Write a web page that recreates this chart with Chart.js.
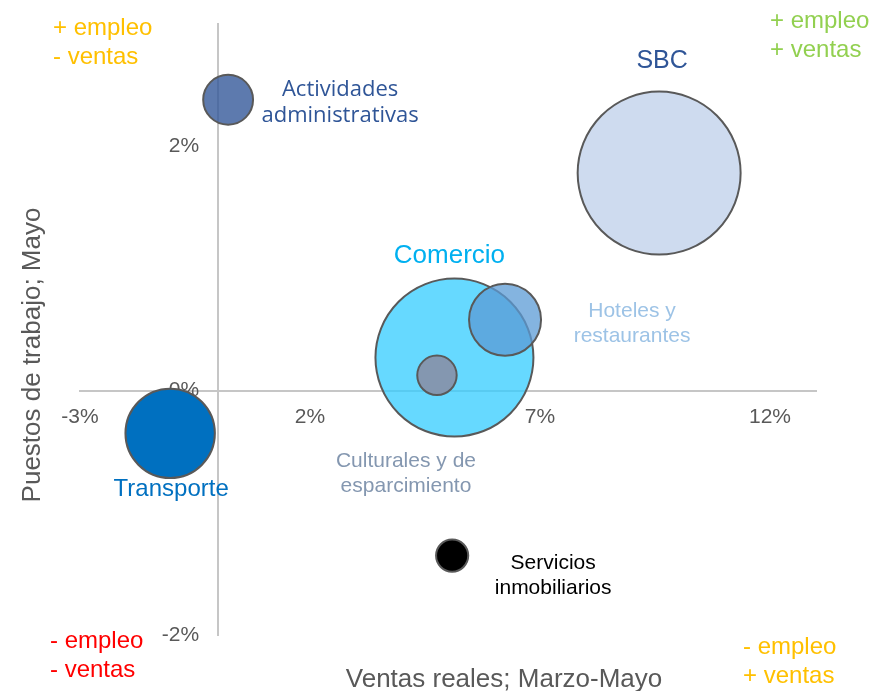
<!DOCTYPE html>
<html lang="es">
<head>
<meta charset="utf-8">
<title>Empleo y ventas por sector</title>
<script src="https://cdn.jsdelivr.net/npm/chart.js@4.4.1/dist/chart.umd.min.js"></script>
<style>
  html, body { margin: 0; padding: 0; background: #fff; }
  #grafico { display: block; }
</style>
</head>
<body>
<canvas id="grafico" width="873" height="691"></canvas>
<script>
'use strict';

// ── Datos ──
var sectores = [
  ['SBC'],
  ['Comercio'],
  ['Hoteles y', 'restaurantes'],
  ['Culturales y de', 'esparcimiento'],
  ['Actividades', 'administrativas'],
  ['Transporte'],
  ['Servicios', 'inmobiliarios']
];
var ventas = [9.59, 5.14, 6.24, 4.76, 0.22, -1.04, 5.09];     // Ventas reales; Marzo-Mayo (%)
var empleo = [1.78, 0.27, 0.58, 0.125, 2.38, -0.35, -1.35];   // Puestos de trabajo; Mayo (%)
var peso = [84, 79, 16.9, 5.3, 8.3, 25.8, 3.6];               // tamaño relativo de la burbuja
var ticksX = [-3, 2, 7, 12];
var ticksY = [-2, 0, 2];

// ── Estilos ──
var FUENTE = '"Liberation Sans", Arial, sans-serif';
var relleno = ['rgba(180,199,231,0.65)', 'rgba(51,204,255,0.75)', 'rgba(91,155,213,0.75)', 'rgba(132,151,176,1)',
               'rgba(47,85,151,0.78)', 'rgba(0,112,192,1)', 'rgba(0,0,0,1)'];
var colorEtiqueta = ['#2f5597', '#00b0f0', '#9dc3e6', '#8497b0', '#2f5597', '#0070c0', '#000000'];
var estiloEtiqueta = [
  { dx: 3,   dy: -105, lh: 0,  size: 25 },
  { dx: -5,  dy: -95,  lh: 0,  size: 26 },
  { dx: 127, dy: -3,   lh: 25, size: 21 },
  { dx: -31, dy: 92,   lh: 25, size: 21 },
  { dx: 112, dy: -4,   lh: 26, size: 22, family: '"Open Sans", sans-serif' },
  { dx: 1,   dy: 63,   lh: 0,  size: 24 },
  { dx: 101, dy: 13,   lh: 25, size: 21 }
];
var cuadrantes = [
  { x: 53,  y: 35,  lineas: ['+ empleo', '- ventas'], color: '#ffc000' },
  { x: 770, y: 28,  lineas: ['+ empleo', '+ ventas'], color: '#92d050' },
  { x: 50,  y: 648, lineas: ['- empleo', '- ventas'], color: '#ff0000' },
  { x: 743, y: 654, lineas: ['- empleo', '+ ventas'], color: '#ffc000' }
];

function radio(w) { return 9 * Math.sqrt(w) - 1; }

var puntos = ventas.map(function (v, i) { return { x: v, y: empleo[i], r: radio(peso[i]) }; });

// ── Textos: etiquetas de burbujas, cuadrantes y títulos de ejes ──
var textosPlugin = {
  id: 'textos',
  afterDatasetsDraw: function (chart) {
    var ctx = chart.ctx;
    var meta = chart.getDatasetMeta(0);
    ctx.save();
    ctx.textBaseline = 'alphabetic';

    ctx.textAlign = 'center';
    meta.data.forEach(function (el, i) {
      var e = estiloEtiqueta[i];
      ctx.font = e.size + 'px ' + (e.family || FUENTE);
      ctx.fillStyle = colorEtiqueta[i];
      sectores[i].forEach(function (linea, j) {
        ctx.fillText(linea, el.x + e.dx, el.y + e.dy + j * e.lh);
      });
    });

    ctx.textAlign = 'left';
    ctx.font = '24px ' + FUENTE;
    cuadrantes.forEach(function (c) {
      ctx.fillStyle = c.color;
      c.lineas.forEach(function (l, j) { ctx.fillText(l, c.x, c.y + j * 29); });
    });

    ctx.fillStyle = '#595959';
    ctx.font = '26px ' + FUENTE;
    ctx.textAlign = 'center';
    ctx.fillText('Ventas reales; Marzo-Mayo', 504, 687);
    ctx.translate(40, 355);
    ctx.rotate(-Math.PI / 2);
    ctx.fillText('Puestos de trabajo; Mayo', 0, 0);
    ctx.restore();
  }
};

function fijarTicks(valores) {
  return function (scale) { scale.ticks = valores.map(function (v) { return { value: v }; }); };
}

new Chart(document.getElementById('grafico'), {
  type: 'bubble',
  data: {
    datasets: [{
      data: puntos,
      backgroundColor: relleno,
      borderColor: '#595959',
      borderWidth: 2,
      hoverBorderWidth: 2
    }]
  },
  options: {
    responsive: false,
    animation: false,
    events: [],
    layout: { autoPadding: false, padding: { left: 80, right: 57, top: 24, bottom: 56 } },
    plugins: { legend: { display: false }, tooltip: { enabled: false } },
    scales: {
      x: {
        type: 'linear',
        position: { y: 0 },
        min: -3, max: 13,
        afterBuildTicks: fijarTicks(ticksX),
        grid: { display: false, drawTicks: false },
        border: { color: '#c6c6c6', width: 2 },
        ticks: {
          padding: 14, maxRotation: 0, autoSkip: false,
          color: '#595959', font: { family: FUENTE, size: 21 },
          callback: function (v) { return v + '%'; }
        }
      },
      y: {
        type: 'linear',
        position: { x: 0 },
        min: -2, max: 3,
        afterBuildTicks: fijarTicks(ticksY),
        grid: { display: false, drawTicks: false },
        border: { color: '#c6c6c6', width: 2 },
        ticks: {
          autoSkip: false,
          color: '#595959', font: { family: FUENTE, size: 21 },
          // el eje centrado no separa las etiquetas: se añade un espacio final
          callback: function (v) { return v + '%\u2002\u2009\u2009'; }
        }
      }
    }
  },
  plugins: [textosPlugin]
});
</script>
</body>
</html>
